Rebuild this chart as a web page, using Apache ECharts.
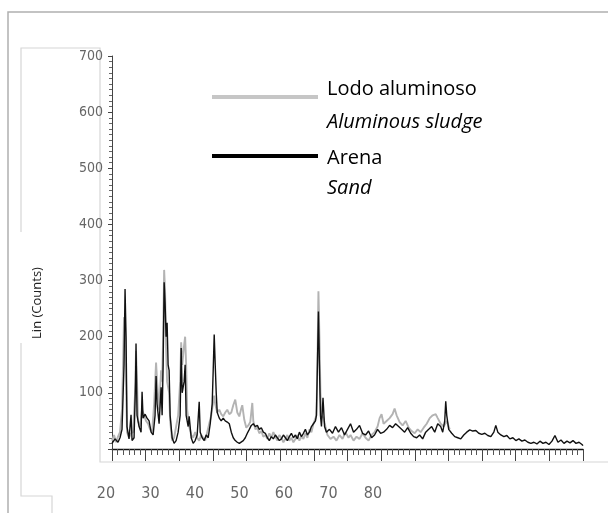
<!DOCTYPE html>
<html><head><meta charset="utf-8">
<script src="https://cdn.jsdelivr.net/npm/echarts@6/dist/echarts.min.js"></script>
<style>html,body{margin:0;padding:0;background:#fff}#c{width:608px;height:513px}</style>
</head><body><div id="c"></div>
<script>
const xTickLabels = ['20','30','40','50','60','70','80'];

const lodoTheta = [5.00,5.30,5.60,5.89,6.19,6.49,6.64,6.79,6.94,7.09,7.23,7.53,7.83,8.13,8.43,8.57,8.72,8.87,9.17,9.47,9.77,10.06,10.36,10.66,10.96,11.26,11.55,11.70,12.00,12.30,12.45,12.60,12.75,12.89,13.04,13.19,13.49,13.64,13.94,14.23,14.53,14.83,15.13,15.28,15.43,15.72,15.87,16.02,16.17,16.47,16.77,17.06,17.36,17.66,17.96,18.26,18.55,18.85,19.15,19.45,19.75,20.04,20.19,20.34,20.64,20.94,21.23,21.53,21.83,22.13,22.43,22.73,23.02,23.32,23.62,23.92,24.21,24.36,24.66,24.96,25.26,25.55,25.85,26.00,26.30,26.60,26.89,27.19,27.49,27.79,28.09,28.38,28.68,28.98,29.28,29.57,29.87,30.17,30.47,30.77,31.06,31.36,31.66,31.96,32.26,32.55,32.85,33.15,33.45,33.74,34.04,34.34,34.64,34.94,35.24,35.38,35.53,35.68,35.83,35.98,36.13,36.43,36.72,37.02,37.47,37.92,38.36,38.81,39.26,39.70,40.15,40.45,40.90,41.34,41.79,42.24,42.68,43.13,43.58,44.02,44.47,44.77,45.06,45.36,45.81,46.26,46.70,47.00,47.30,47.75,48.19,48.64,49.09,49.53,49.98,50.43,50.87,51.32,51.77,52.22,52.66,53.11,53.41,53.85,54.30,54.75,55.19];
const lodoCounts = [15,25,12,22,30,70,150,235,220,120,30,20,28,30,100,175,120,50,40,70,60,50,45,35,30,80,154,120,70,140,120,200,319,280,180,120,100,50,15,20,40,60,120,190,150,185,200,150,70,40,25,20,30,20,15,25,20,15,30,45,60,85,95,80,65,70,62,58,65,70,62,65,78,88,65,58,72,78,52,38,42,48,82,50,35,38,28,32,22,25,18,28,20,30,22,15,25,20,12,18,25,15,20,12,18,25,15,22,18,28,20,35,30,45,55,60,150,281,200,100,60,55,40,25,18,22,15,25,18,30,20,25,15,22,18,28,20,15,25,30,40,55,62,45,50,55,62,72,60,48,42,50,38,32,28,35,30,38,45,55,60,62,55,45,40,50,35];

const arenaTheta = [5.00,5.45,5.89,6.19,6.49,6.79,6.94,7.09,7.23,7.53,7.83,7.98,8.28,8.50,8.57,8.72,9.02,9.32,9.47,9.62,9.92,10.21,10.51,10.81,11.11,11.40,11.55,11.70,12.00,12.30,12.45,12.60,12.75,12.89,13.04,13.19,13.34,13.49,13.64,13.94,14.23,14.53,14.83,15.13,15.28,15.43,15.72,15.87,16.02,16.32,16.47,16.77,17.06,17.36,17.66,17.96,18.11,18.40,18.70,19.00,19.30,19.60,19.89,20.04,20.19,20.34,20.49,20.64,20.94,21.23,21.53,21.83,22.13,22.43,22.73,23.02,23.32,23.62,23.92,24.21,24.51,24.81,25.11,25.41,25.70,26.00,26.30,26.60,26.89,27.19,27.49,27.79,28.09,28.38,28.68,28.98,29.28,29.57,29.87,30.17,30.47,30.77,31.06,31.36,31.66,31.96,32.26,32.55,32.85,33.15,33.45,33.74,34.04,34.34,34.64,34.94,35.24,35.38,35.53,35.68,35.83,35.98,36.13,36.36,36.59,36.87,37.32,37.77,38.21,38.66,39.11,39.56,40.00,40.45,40.90,41.34,41.79,42.24,42.68,43.13,43.58,44.02,44.47,44.92,45.36,45.81,46.26,46.70,47.15,47.60,48.04,48.49,48.94,49.39,49.83,50.28,50.72,51.17,51.62,52.07,52.51,52.96,53.41,53.85,54.15,54.45,54.60,54.75,55.04,55.49,55.94,56.39,56.83,57.28,57.72,58.17,58.62,59.07,59.51,59.96,60.41,60.85,61.30,61.75,62.04,62.34,62.79,63.24,63.68,64.13,64.58,65.02,65.47,65.92,66.36,66.81,67.26,67.70,68.15,68.60,69.05,69.49,69.94,70.39,70.83,71.28,71.73,72.17,72.62,73.07,73.51,73.96,74.41,74.85,75.00];
const arenaCounts = [10,18,12,20,35,150,285,200,40,18,61,15,20,120,188,60,40,30,102,55,62,55,50,30,25,60,130,80,45,110,60,150,297,260,200,225,150,140,60,20,10,15,30,60,180,100,120,150,60,40,58,20,10,15,25,84,30,20,15,25,20,45,80,140,204,150,100,65,55,50,55,50,48,45,30,20,15,12,10,12,15,20,28,35,42,45,40,42,35,38,30,28,20,15,22,18,25,20,15,18,25,20,15,22,28,20,25,18,30,22,28,35,25,30,40,45,50,60,150,245,150,60,40,91,40,30,35,28,40,30,38,25,35,45,30,35,42,28,25,32,20,25,35,28,30,35,42,38,45,40,35,30,38,28,22,20,25,18,30,35,40,30,45,40,30,50,85,60,35,28,22,20,18,25,30,34,32,33,28,26,28,24,22,30,42,30,25,22,24,18,20,15,18,14,16,12,10,12,9,14,10,12,8,14,24,12,16,10,14,11,15,10,12,8,6];

const chart = echarts.init(document.getElementById('c'), null, {renderer: 'canvas'});
const zip = (xs, ys) => xs.map((x, i) => [x, ys[i]]);
const lab = '"Liberation Sans Narrow","DejaVu Sans Condensed",sans-serif';
const txt = (x, y, text, italic) => ({
  type: 'text', x: x, y: y, silent: true,
  style: {text: text, fill: '#000', font: (italic ? 'italic ' : '') + '20px "Open Sans"',
    align: 'left', verticalAlign: 'middle', textAlign: 'left', textVerticalAlign: 'middle'}
});
chart.setOption({
  animation: false,
  backgroundColor: '#fff',
  grid: [
    {left: 112, right: 25, top: 56, bottom: 64},
    {left: 106, right: 235, top: 56, bottom: 64}
  ],
  xAxis: [
    {type: 'value', gridIndex: 0, min: 5, max: 75, interval: 5,
     axisLine: {onZero: false, lineStyle: {color: '#111', width: 1.3}},
     axisTick: {show: true, length: 12, lineStyle: {color: '#444'}},
     minorTick: {show: true, splitNumber: 6, length: 6, lineStyle: {color: '#555'}},
     axisLabel: {show: false}, splitLine: {show: false}},
    {type: 'category', gridIndex: 1, data: xTickLabels, boundaryGap: false,
     axisLine: {show: false}, axisTick: {show: false}, splitLine: {show: false},
     axisLabel: {color: '#666', fontSize: 16, fontFamily: lab, margin: 37, interval: 0}}
  ],
  yAxis: [
    {type: 'value', gridIndex: 0, min: 0, max: 700, interval: 100,
     axisLine: {show: true, lineStyle: {color: '#444', width: 1}},
     axisTick: {show: true, length: 4, lineStyle: {color: '#444'}},
     minorTick: {show: true, splitNumber: 10, length: 3, lineStyle: {color: '#666'}},
     axisLabel: {color: '#666', fontSize: 14, fontFamily: lab, margin: 9, showMinLabel: false,
       formatter: v => (v === 0 ? '' : String(v))},
     splitLine: {show: false}},
    {type: 'value', gridIndex: 1, show: false, min: 0, max: 700}
  ],
  series: [
    {type: 'line', name: 'Lodo aluminoso', xAxisIndex: 0, yAxisIndex: 0,
     data: zip(lodoTheta, lodoCounts), symbol: 'none', z: 2,
     lineStyle: {color: '#b3b3b3', width: 1.9}, itemStyle: {color: '#b3b3b3'}},
    {type: 'line', name: 'Arena', xAxisIndex: 0, yAxisIndex: 0,
     data: zip(arenaTheta, arenaCounts), symbol: 'none', z: 3,
     lineStyle: {color: '#111', width: 1.4}, itemStyle: {color: '#111'}}
  ],
  graphic: [
    {type: 'polyline', silent: true, shape: {points: [[8, 513], [8, 12], [608, 12]]},
     style: {stroke: '#b0b0b0', lineWidth: 1.5, fill: null}},
    {type: 'polyline', silent: true, shape: {points: [[21, 232], [21, 48], [100, 48], [100, 462], [608, 462]]},
     style: {stroke: '#d6d6d6', lineWidth: 1.2, fill: null}},
    {type: 'polyline', silent: true, shape: {points: [[21, 343], [21, 496], [52, 496], [52, 513]]},
     style: {stroke: '#d6d6d6', lineWidth: 1.2, fill: null}},
    {type: 'line', silent: true, shape: {x1: 212, y1: 97, x2: 318, y2: 97},
     style: {stroke: '#c6c6c6', lineWidth: 4}},
    {type: 'line', silent: true, shape: {x1: 212, y1: 156, x2: 318, y2: 156},
     style: {stroke: '#000', lineWidth: 4}},
    txt(327, 89, 'Lodo aluminoso', false),
    txt(327, 122, 'Aluminous sludge', true),
    txt(327, 158, 'Arena', false),
    txt(327, 188, 'Sand', true),
    {type: 'text', x: 37, y: 303, rotation: Math.PI / 2, silent: true,
     style: {text: 'Lin (Counts)', fill: '#222', font: '13px "Open Sans"',
       align: 'center', verticalAlign: 'middle', textAlign: 'center', textVerticalAlign: 'middle'}}
  ]
});
</script>
</body></html>
